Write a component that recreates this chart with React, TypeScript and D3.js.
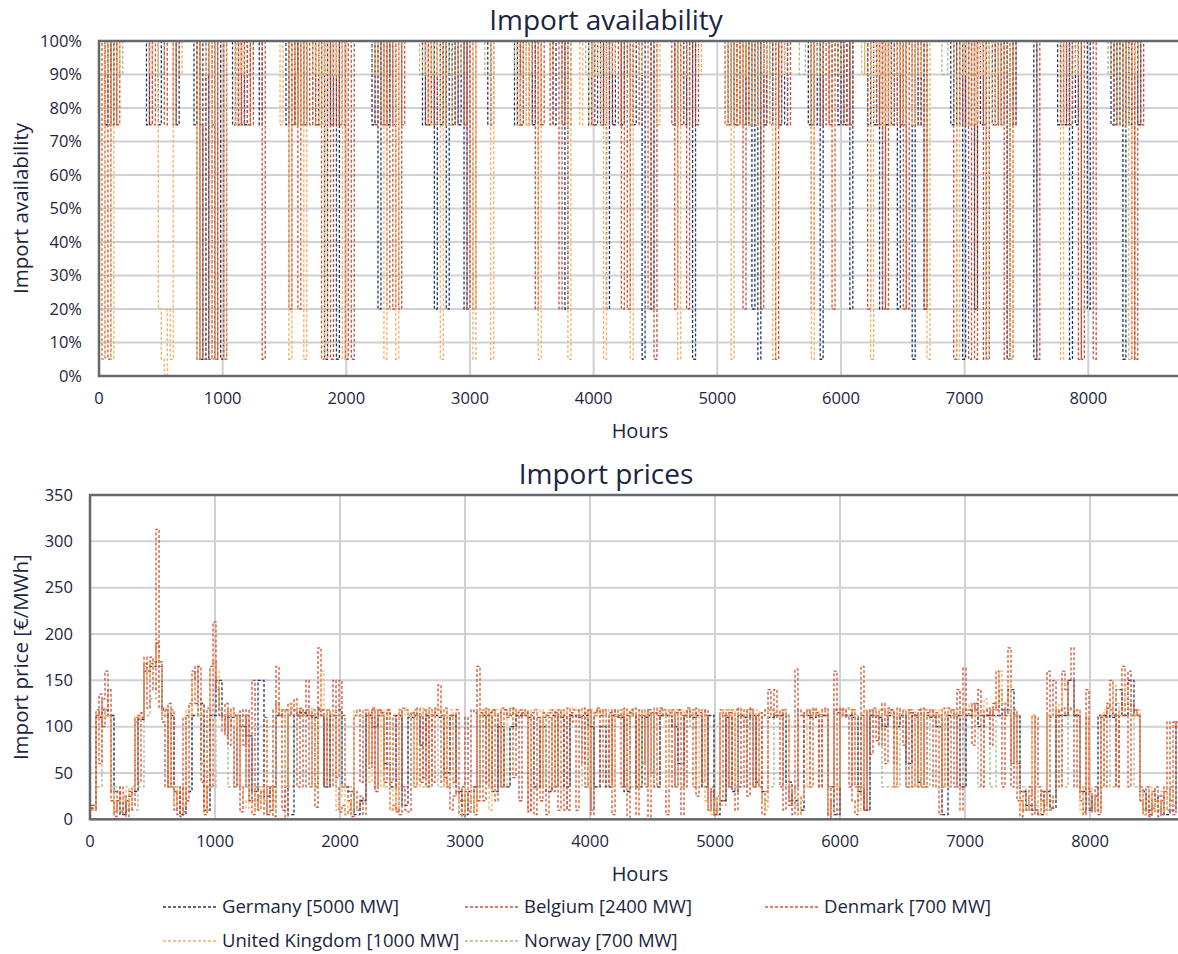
import React from "react";
import * as d3 from "d3";

// readings are daily (24 h) for the busy series, every 48 h for the quieter ones
const DAY = 24;
const TWO_DAYS = 48;
const HOURS_MAX = 8760;

const legendLabels = [
  "Germany [5000 MW]",
  "Belgium [2400 MW]",
  "Denmark [700 MW]",
  "United Kingdom [1000 MW]",
  "Norway [700 MW]",
];
const seriesColors = ["#1f3a68", "#c4503f", "#d4552c", "#f5b062", "#a8b98a"];

const xTicks = [0, 1000, 2000, 3000, 4000, 5000, 6000, 7000, 8000];
const availTicks = [0, 0.1, 0.2, 0.3, 0.4, 0.5, 0.6, 0.7, 0.8, 0.9, 1];
const priceTicks = [0, 50, 100, 150, 200, 250, 300, 350];

// availability in %, one value per day
const availGermany = [
  100, 100, 75, 100, 75, 100, 100, 100, 100, 100,
  100, 100, 100, 100, 100, 100, 75, 100, 100, 100,
  75, 100, 100, 100, 100, 100, 75, 100, 100, 100,
  100, 100, 75, 100, 5, 100, 5, 100, 5, 100,
  100, 5, 100, 100, 100, 75, 100, 75, 100, 75,
  100, 100, 100, 100, 75, 100, 100, 100, 100, 100,
  100, 100, 100, 75, 100, 100, 75, 100, 100, 75,
  100, 100, 100, 100, 75, 100, 5, 100, 75, 100,
  5, 100, 75, 100, 100, 100, 100, 100, 100, 100,
  100, 100, 75, 100, 20, 100, 100, 75, 100, 100,
  100, 100, 100, 100, 100, 100, 100, 100, 100, 75,
  100, 75, 100, 20, 100, 75, 100, 20, 100, 75,
  100, 75, 100, 20, 100, 100, 100, 100, 100, 100,
  100, 75, 100, 100, 100, 100, 100, 100, 100, 100,
  75, 100, 75, 100, 100, 100, 75, 100, 100, 100,
  100, 100, 100, 75, 100, 100, 100, 20, 100, 100,
  100, 100, 100, 100, 100, 75, 100, 75, 100, 75,
  100, 20, 100, 75, 100, 100, 75, 100, 100, 100,
  75, 100, 100, 5, 100, 100, 20, 100, 100, 100,
  100, 100, 100, 100, 75, 100, 100, 75, 100, 100,
  5, 100, 100, 100, 100, 100, 100, 100, 100, 100,
  100, 75, 100, 75, 100, 75, 100, 100, 75, 100,
  20, 100, 5, 100, 75, 100, 75, 100, 100, 75,
  100, 75, 100, 100, 100, 100, 100, 100, 100, 75,
  100, 75, 100, 5, 100, 100, 100, 100, 100, 75,
  100, 75, 100, 20, 100, 100, 100, 100, 100, 75,
  100, 75, 100, 20, 100, 75, 100, 75, 100, 20,
  100, 75, 100, 100, 5, 100, 75, 100, 20, 100,
  100, 100, 100, 100, 100, 100, 100, 75, 100, 75,
  100, 5, 100, 75, 100, 20, 100, 75, 100, 5,
  100, 75, 100, 100, 75, 100, 5, 100, 75, 100,
  100, 100, 100, 100, 100, 5, 100, 100, 100, 100,
  100, 100, 100, 75, 100, 75, 100, 5, 100, 75,
  100, 100, 100, 20, 100, 100, 100, 100, 100, 100,
  100, 75, 100, 75, 100, 5, 100, 75, 100, 100,
  75, 100, 100, 100, 100, 100, 100, 100, 100, 100,
  100, 100, 100, 100, 100,
];
const availBelgium = [
  100, 75, 100, 5, 100, 75, 100, 100, 100, 100,
  100, 100, 100, 100, 100, 100, 100, 75, 100, 100,
  100, 100, 75, 100, 100, 100, 100, 100, 100, 100,
  100, 100, 100, 5, 100, 100, 100, 5, 100, 5,
  100, 100, 5, 100, 100, 100, 75, 100, 75, 100,
  75, 100, 100, 100, 100, 5, 100, 100, 100, 100,
  100, 100, 100, 100, 20, 100, 75, 100, 75, 100,
  100, 75, 100, 75, 100, 100, 75, 100, 5, 100,
  100, 75, 100, 100, 100, 5, 100, 100, 100, 100,
  100, 100, 100, 75, 100, 75, 100, 20, 100, 75,
  100, 20, 100, 100, 100, 100, 100, 100, 100, 100,
  75, 100, 100, 75, 100, 100, 75, 100, 100, 100,
  75, 100, 100, 100, 20, 100, 100, 100, 100, 100,
  100, 100, 75, 100, 100, 100, 100, 100, 100, 100,
  100, 75, 100, 100, 75, 100, 100, 20, 100, 75,
  100, 100, 75, 100, 100, 20, 100, 100, 75, 100,
  100, 100, 100, 100, 100, 100, 75, 100, 100, 75,
  100, 100, 75, 100, 100, 75, 100, 100, 20, 100,
  100, 100, 75, 100, 100, 100, 100, 5, 100, 100,
  100, 100, 100, 75, 100, 100, 75, 100, 20, 100,
  100, 75, 100, 100, 100, 100, 100, 100, 100, 100,
  100, 100, 75, 100, 100, 75, 100, 20, 100, 75,
  100, 75, 100, 100, 75, 100, 100, 75, 100, 75,
  100, 100, 75, 100, 100, 100, 100, 100, 100, 100,
  20, 100, 100, 75, 100, 100, 75, 100, 100, 100,
  75, 100, 100, 75, 100, 100, 100, 100, 100, 20,
  100, 100, 75, 100, 20, 100, 100, 75, 100, 100,
  75, 100, 20, 100, 100, 100, 75, 100, 100, 100,
  100, 100, 100, 100, 100, 100, 100, 100, 5, 100,
  75, 100, 100, 5, 100, 75, 100, 100, 5, 100,
  100, 100, 75, 100, 100, 5, 100, 100, 75, 100,
  100, 100, 100, 100, 100, 100, 5, 100, 100, 100,
  100, 100, 100, 100, 75, 100, 100, 75, 100, 100,
  5, 100, 100, 100, 100, 5, 100, 100, 100, 100,
  100, 100, 75, 100, 100, 75, 100, 100, 5, 100,
  100, 75, 100, 100, 100, 100, 100, 100, 100, 100,
  100, 100, 100, 100, 100,
];
const availDenmark = [
  100, 5, 100, 75, 100, 100, 75, 100, 100, 100,
  100, 100, 100, 100, 100, 100, 100, 100, 75, 100,
  100, 100, 100, 100, 100, 75, 100, 100, 100, 100,
  100, 100, 100, 100, 75, 5, 100, 100, 75, 5,
  100, 100, 100, 100, 100, 100, 100, 75, 100, 100,
  100, 75, 100, 100, 100, 100, 100, 100, 100, 100,
  100, 100, 100, 100, 100, 75, 100, 20, 100, 75,
  100, 100, 75, 100, 100, 5, 100, 100, 75, 100,
  75, 100, 100, 5, 100, 100, 100, 100, 100, 100,
  100, 100, 100, 100, 100, 100, 75, 100, 100, 20,
  100, 100, 75, 100, 100, 100, 100, 100, 100, 100,
  100, 100, 75, 100, 100, 100, 75, 100, 100, 100,
  100, 100, 100, 75, 100, 100, 20, 100, 100, 100,
  100, 100, 100, 100, 100, 100, 100, 100, 100, 100,
  100, 100, 75, 100, 100, 75, 100, 100, 75, 100,
  100, 100, 100, 100, 100, 100, 75, 100, 100, 100,
  100, 100, 100, 100, 100, 100, 100, 100, 100, 100,
  75, 100, 100, 100, 100, 100, 20, 100, 100, 75,
  100, 100, 100, 100, 100, 20, 100, 100, 100, 100,
  100, 100, 100, 100, 20, 100, 100, 100, 100, 75,
  100, 100, 100, 100, 100, 100, 100, 100, 100, 100,
  100, 100, 100, 100, 75, 100, 100, 75, 100, 100,
  100, 100, 100, 20, 100, 100, 100, 100, 5, 100,
  100, 100, 100, 100, 100, 100, 100, 100, 100, 100,
  75, 100, 100, 100, 100, 75, 100, 20, 100, 100,
  100, 100, 75, 100, 100, 100, 100, 100, 100, 100,
  100, 100, 100, 75, 100, 20, 100, 100, 100, 75,
  100, 20, 100, 100, 75, 100, 100, 100, 20, 100,
  100, 100, 100, 100, 100, 100, 100, 100, 100, 100,
  100, 100, 75, 100, 100, 5, 100, 100, 75, 100,
  100, 100, 100, 75, 100, 100, 100, 5, 100, 100,
  100, 100, 100, 100, 100, 100, 100, 100, 100, 100,
  100, 100, 100, 100, 100, 100, 75, 100, 100, 100,
  100, 5, 100, 100, 100, 100, 100, 100, 100, 100,
  100, 100, 100, 100, 100, 100, 75, 100, 100, 5,
  100, 100, 100, 100, 100, 100, 100, 100, 100, 100,
  100, 100, 100, 100, 100,
];
const availUK = [
  100, 5, 100, 90, 5, 100, 90, 100, 100, 100,
  100, 100, 100, 100, 100, 100, 100, 90, 100, 100,
  20, 5, 0, 20, 5, 100, 100, 90, 100, 100,
  100, 100, 100, 5, 100, 100, 90, 100, 5, 100,
  100, 100, 5, 100, 100, 100, 75, 100, 90, 100,
  100, 100, 100, 100, 100, 100, 100, 100, 100, 100,
  100, 75, 100, 100, 5, 100, 90, 75, 100, 5,
  100, 100, 90, 100, 75, 100, 5, 100, 100, 90,
  100, 100, 5, 100, 100, 100, 100, 100, 100, 100,
  100, 100, 100, 90, 100, 100, 5, 100, 100, 100,
  5, 100, 100, 100, 100, 100, 100, 100, 100, 90,
  100, 75, 100, 90, 100, 5, 100, 75, 75, 100,
  100, 90, 100, 100, 100, 100, 5, 100, 100, 100,
  100, 100, 5, 100, 100, 100, 100, 100, 100, 100,
  100, 75, 90, 100, 75, 100, 100, 100, 5, 100,
  100, 100, 90, 100, 100, 100, 100, 100, 5, 100,
  100, 100, 75, 100, 100, 75, 100, 90, 100, 75,
  5, 100, 100, 90, 100, 100, 100, 100, 100, 5,
  100, 100, 90, 100, 100, 100, 100, 100, 75, 100,
  100, 100, 100, 100, 100, 5, 100, 100, 100, 100,
  100, 100, 90, 100, 100, 100, 100, 100, 100, 100,
  100, 75, 100, 5, 100, 75, 100, 90, 100, 75,
  100, 75, 100, 100, 90, 100, 75, 5, 100, 100,
  90, 100, 100, 100, 100, 100, 100, 100, 100, 100,
  5, 100, 100, 90, 100, 100, 100, 100, 100, 90,
  100, 100, 100, 100, 100, 100, 100, 90, 100, 100,
  5, 100, 90, 100, 75, 100, 75, 100, 100, 90,
  100, 75, 100, 100, 75, 100, 90, 100, 100, 5,
  100, 100, 100, 100, 100, 100, 100, 100, 90, 5,
  100, 90, 100, 75, 100, 75, 100, 90, 100, 5,
  100, 75, 90, 100, 75, 100, 100, 5, 100, 100,
  100, 100, 100, 100, 100, 100, 100, 100, 100, 100,
  100, 100, 100, 100, 5, 100, 100, 100, 100, 90,
  100, 100, 100, 100, 100, 100, 100, 100, 100, 100,
  100, 90, 100, 75, 100, 75, 100, 5, 100, 90,
  100, 100, 100, 100, 100, 100, 100, 100, 100, 100,
  100, 100, 100, 100, 100,
];
// Norway, one value every two days
const availNorway = [
  100, 90, 100, 90, 100, 100, 100, 100, 100, 100, 90, 100,
  100, 100, 100, 100, 100, 100, 100, 100, 100, 100, 100, 90,
  100, 90, 100, 100, 100, 100, 100, 100, 90, 100, 90, 100,
  100, 90, 100, 90, 100, 100, 100, 100, 100, 100, 90, 100,
  90, 100, 100, 100, 100, 100, 90, 100, 90, 100, 100, 90,
  100, 100, 100, 100, 100, 90, 100, 100, 100, 100, 90, 100,
  90, 100, 100, 100, 100, 100, 100, 100, 100, 100, 90, 100,
  100, 90, 100, 100, 90, 100, 100, 100, 100, 100, 100, 100,
  100, 100, 90, 100, 100, 100, 100, 100, 100, 100, 100, 90,
  90, 100, 100, 90, 100, 90, 100, 100, 100, 100, 90, 100,
  90, 100, 100, 100, 90, 100, 100, 100, 100, 90, 100, 90,
  100, 90, 100, 90, 100, 90, 100, 100, 100, 100, 90, 100,
  100, 90, 100, 90, 100, 100, 90, 100, 100, 90, 100, 100,
  100, 100, 100, 100, 100, 100, 100, 90, 100, 100, 100, 100,
  100, 100, 90, 100, 100, 90, 100, 100, 100, 100, 100, 100,
  100, 100, 100,
];

// import prices in €/MWh
const priceGermany = [
  12, 110, 118, 112, 30, 5, 25, 30, 108, 160, 165, 170,
  118, 112, 30, 5, 30, 112, 125, 10, 112, 150, 112, 110,
  112, 100, 90, 30, 150, 25, 35, 112, 118, 5, 112, 115,
  112, 110, 118, 35, 112, 118, 35, 30, 5, 20, 112, 100,
  112, 60, 35, 112, 15, 110, 112, 80, 112, 112, 110, 50,
  112, 30, 5, 30, 35, 112, 112, 30, 100, 35, 100, 112,
  112, 110, 35, 100, 30, 112, 110, 35, 112, 110, 112, 100,
  35, 100, 35, 112, 110, 30, 112, 35, 110, 112, 35, 112,
  112, 100, 60, 112, 110, 112, 35, 112, 5, 20, 110, 30,
  112, 110, 112, 40, 30, 110, 112, 112, 40, 20, 10, 112,
  110, 112, 112, 35, 5, 112, 112, 110, 30, 10, 112, 110,
  100, 112, 100, 112, 60, 112, 40, 112, 110, 100, 5, 112,
  112, 35, 112, 118, 100, 112, 112, 112, 118, 140, 112, 30,
  15, 10, 5, 30, 12, 112, 112, 150, 112, 30, 10, 25,
  112, 112, 110, 140, 112, 150, 112, 30, 10, 20, 25, 5,
  10, 100, 100,
];
const priceBelgium = [
  15, 10, 112, 135, 100, 118, 140, 30, 8, 20,
  35, 5, 20, 10, 35, 105, 112, 115, 168, 160,
  175, 170, 190, 165, 120, 110, 35, 118, 30, 5,
  35, 8, 112, 125, 150, 165, 130, 40, 35, 10,
  165, 170, 140, 112, 110, 90, 118, 100, 35, 112,
  8, 35, 118, 20, 150, 10, 25, 30, 5, 35,
  10, 118, 125, 112, 10, 35, 112, 120, 118, 112,
  118, 35, 150, 112, 118, 35, 120, 112, 35, 118,
  112, 150, 35, 8, 15, 5, 10, 30, 112, 118,
  40, 118, 112, 60, 118, 30, 118, 115, 55, 118,
  40, 112, 10, 5, 120, 118, 112, 115, 118, 112,
  112, 45, 118, 35, 112, 120, 118, 112, 45, 35,
  10, 25, 30, 5, 35, 110, 20, 118, 115, 20,
  112, 118, 40, 115, 118, 112, 35, 120, 118, 112,
  112, 120, 112, 20, 115, 118, 8, 115, 118, 110,
  35, 110, 112, 115, 118, 35, 118, 110, 112, 10,
  115, 118, 118, 112, 60, 115, 118, 10, 115, 118,
  112, 118, 112, 40, 118, 112, 110, 118, 35, 112,
  118, 112, 35, 118, 112, 35, 118, 50, 115, 112,
  120, 118, 112, 118, 35, 115, 118, 5, 112, 118,
  112, 118, 25, 35, 118, 112, 10, 35, 5, 15,
  118, 112, 35, 115, 118, 118, 35, 112, 118, 25,
  118, 35, 112, 35, 112, 118, 140, 118, 112, 112,
  118, 10, 35, 20, 5, 35, 118, 112, 115, 118,
  112, 118, 115, 35, 118, 112, 5, 35, 118, 115,
  120, 118, 110, 35, 118, 35, 20, 112, 10, 115,
  118, 112, 85, 118, 118, 112, 120, 118, 60, 112,
  118, 115, 35, 118, 115, 112, 118, 35, 118, 115,
  118, 112, 115, 110, 35, 112, 120, 118, 35, 140,
  112, 118, 118, 118, 125, 118, 140, 112, 112, 118,
  112, 125, 118, 140, 118, 112, 118, 35, 112, 60,
  20, 10, 10, 35, 5, 110, 35, 20, 10, 112,
  110, 150, 112, 118, 160, 140, 120, 118, 35, 112,
  30, 8, 110, 12, 8, 35, 10, 112, 110, 125,
  118, 112, 35, 112, 125, 118, 160, 112, 118, 112,
  20, 5, 35, 5, 12, 35, 3, 20, 35, 10,
  35, 5, 105, 20, 100,
];
const priceDenmark = [
  12, 15, 118, 60, 130, 160, 112, 20, 3, 30,
  8, 25, 3, 30, 15, 110, 40, 110, 175, 120,
  168, 140, 313, 120, 105, 35, 125, 35, 10, 30,
  3, 110, 20, 112, 160, 125, 165, 60, 5, 120,
  35, 213, 150, 118, 95, 125, 80, 120, 112, 35,
  118, 80, 112, 20, 5, 35, 10, 30, 110, 5,
  35, 3, 165, 112, 118, 0, 125, 112, 130, 35,
  120, 112, 118, 35, 112, 13, 185, 112, 40, 118,
  35, 112, 45, 150, 112, 35, 20, 3, 30, 10,
  25, 5, 118, 55, 120, 35, 118, 112, 40, 118,
  10, 15, 8, 118, 35, 10, 8, 115, 35, 120,
  40, 118, 35, 120, 40, 118, 145, 40, 120, 35,
  112, 40, 118, 20, 3, 30, 8, 25, 5, 165,
  115, 20, 120, 35, 118, 20, 115, 35, 118, 110,
  120, 45, 115, 118, 112, 115, 10, 112, 5, 110,
  20, 115, 5, 110, 30, 115, 10, 118, 10, 120,
  105, 112, 10, 118, 120, 35, 118, 5, 112, 120,
  40, 118, 35, 115, 5, 118, 112, 35, 120, 0,
  115, 120, 5, 112, 60, 118, 0, 115, 120, 35,
  118, 112, 5, 115, 118, 35, 118, 112, 35, 120,
  112, 35, 120, 115, 40, 118, 10, 30, 5, 25,
  112, 20, 118, 35, 115, 10, 120, 112, 35, 118,
  120, 35, 112, 115, 5, 30, 118, 112, 140, 110,
  35, 118, 112, 15, 30, 162, 5, 25, 112, 118,
  35, 120, 112, 35, 118, 120, 0, 20, 160, 5,
  118, 112, 120, 118, 20, 5, 35, 165, 10, 118,
  70, 120, 112, 80, 125, 60, 115, 118, 35, 120,
  112, 80, 118, 115, 35, 110, 35, 120, 35, 110,
  118, 35, 112, 5, 120, 112, 35, 118, 112, 35,
  10, 163, 112, 118, 80, 125, 112, 35, 118, 120,
  80, 118, 160, 112, 35, 125, 185, 60, 118, 20,
  3, 30, 10, 25, 112, 10, 5, 30, 15, 160,
  10, 25, 118, 35, 120, 112, 150, 185, 112, 118,
  20, 5, 140, 30, 10, 25, 5, 110, 35, 120,
  150, 112, 35, 118, 165, 112, 35, 125, 118, 112,
  35, 10, 25, 3, 30, 8, 20, 5, 30, 105,
  20, 105, 100, 35, 105,
];
const priceUK = [
  10, 12, 110, 112, 120, 110, 112, 35, 10, 10,
  25, 20, 35, 15, 35, 112, 110, 112, 165, 150,
  170, 165, 180, 170, 112, 120, 118, 35, 15, 35,
  30, 15, 118, 112, 150, 130, 112, 118, 10, 35,
  160, 170, 160, 118, 118, 112, 112, 118, 100, 112,
  35, 20, 12, 35, 35, 10, 20, 35, 20, 35,
  35, 10, 120, 118, 118, 35, 118, 125, 125, 118,
  118, 112, 112, 120, 118, 35, 118, 160, 112, 118,
  112, 118, 10, 25, 35, 5, 20, 10, 118, 112,
  112, 118, 118, 40, 112, 118, 112, 35, 118, 112,
  10, 35, 10, 118, 112, 118, 112, 115, 35, 118,
  112, 120, 118, 112, 118, 112, 120, 118, 35, 118,
  118, 35, 25, 10, 5, 35, 20, 35, 10, 35,
  118, 112, 118, 10, 112, 118, 118, 100, 35, 112,
  120, 118, 115, 118, 118, 112, 35, 118, 118, 115,
  118, 35, 115, 118, 35, 112, 118, 112, 115, 118,
  120, 118, 118, 112, 118, 115, 35, 118, 112, 115,
  118, 112, 118, 112, 35, 112, 118, 115, 118, 35,
  112, 118, 118, 35, 118, 112, 115, 35, 118, 118,
  115, 118, 35, 118, 112, 118, 112, 118, 115, 112,
  118, 112, 35, 118, 112, 20, 10, 5, 20, 10,
  115, 118, 118, 112, 118, 35, 115, 118, 112, 118,
  115, 112, 118, 35, 20, 10, 118, 120, 115, 118,
  118, 118, 112, 35, 30, 25, 5, 20, 35, 118,
  118, 112, 118, 112, 118, 118, 10, 10, 35, 35,
  112, 118, 118, 120, 118, 35, 10, 35, 118, 115,
  118, 118, 112, 118, 118, 112, 118, 112, 35, 118,
  112, 118, 112, 118, 118, 35, 112, 35, 118, 112,
  118, 118, 112, 118, 35, 112, 118, 118, 112, 118,
  112, 118, 118, 125, 112, 118, 112, 118, 130, 118,
  118, 118, 125, 160, 125, 125, 150, 112, 112, 35,
  10, 25, 10, 25, 112, 35, 5, 20, 5, 112,
  112, 112, 125, 118, 150, 145, 118, 118, 118, 118,
  10, 35, 112, 35, 25, 10, 30, 112, 118, 125,
  112, 145, 125, 112, 118, 145, 118, 112, 112, 118,
  30, 5, 20, 35, 8, 20, 15, 30, 10, 35,
  15, 100, 100, 100, 100,
];
const priceNorway = [
  10, 35, 112, 112, 35, 10, 10, 10, 35, 112, 130, 150,
  112, 35, 35, 10, 35, 112, 112, 35, 35, 112, 112, 35,
  112, 112, 35, 20, 35, 20, 20, 112, 112, 35, 112, 112,
  112, 35, 112, 35, 112, 112, 35, 35, 10, 20, 112, 100,
  100, 35, 35, 35, 35, 112, 112, 35, 112, 112, 35, 112,
  112, 35, 20, 10, 35, 112, 100, 35, 100, 35, 100, 112,
  112, 35, 35, 100, 35, 35, 112, 35, 112, 112, 35, 100,
  35, 35, 35, 112, 112, 35, 35, 35, 112, 112, 35, 112,
  112, 112, 35, 112, 100, 112, 35, 112, 10, 15, 112, 35,
  112, 100, 112, 35, 20, 35, 112, 112, 35, 15, 10, 35,
  112, 112, 112, 35, 10, 112, 112, 112, 35, 10, 112, 112,
  35, 35, 35, 112, 35, 112, 35, 35, 112, 112, 35, 112,
  112, 35, 112, 112, 35, 112, 35, 112, 112, 112, 112, 35,
  10, 15, 20, 10, 20, 112, 35, 112, 112, 35, 20, 15,
  35, 112, 35, 112, 112, 112, 35, 20, 10, 15, 10, 10,
  15, 20, 100,
];

const availSeries = [availGermany, availBelgium, availDenmark, availUK, availNorway];
const availSteps = [DAY, DAY, DAY, DAY, TWO_DAYS];
const priceSeries = [priceGermany, priceBelgium, priceDenmark, priceUK, priceNorway];
const priceSteps = [TWO_DAYS, DAY, DAY, DAY, TWO_DAYS];
// paint order: Germany lies underneath, United Kingdom on top
const availOrder = [0, 4, 1, 2, 3];
const priceOrder = [4, 0, 1, 2, 3];

const FONT = "'Open Sans', 'DejaVu Sans', sans-serif";
const TEXT = "#1b2540";
const GRID = "#d0d0d6";
const FRAME = "#65686d";

function toPoints(values: number[], step: number, scaleBy = 1) {
  const pts = values.map((v, i) => ({ x: i * step, y: v / scaleBy }));
  pts.push({ x: HOURS_MAX, y: values[values.length - 1] / scaleBy });
  return pts;
}

function Panel({ top, bottom, left, pxPer1000, yScale, yTicks, yFormat, series, steps, order, scaleBy, title, yTitle, clipId }) {
  const right = 1178;
  const xScale = d3
    .scaleLinear()
    .domain([0, HOURS_MAX])
    .range([left, left + (HOURS_MAX / 1000) * pxPer1000]);
  const line = d3
    .line<{ x: number; y: number }>()
    .x((d) => xScale(d.x))
    .y((d) => yScale(d.y))
    .curve(d3.curveStepAfter);
  const plotRight = xScale(HOURS_MAX);

  return (
    <g>
      <text x={606} y={top - 11} textAnchor="middle" fontSize={28} fill={TEXT} fontFamily={FONT}>
        {title}
      </text>
      <defs>
        <clipPath id={clipId}>
          <rect x={left} y={top - 2} width={right - left} height={bottom - top + 4} />
        </clipPath>
      </defs>
      {yTicks.map((t) => (
        <line key={"gy" + t} x1={left} x2={plotRight} y1={yScale(t)} y2={yScale(t)} stroke={GRID} strokeWidth={2} />
      ))}
      {xTicks.map((t) => (
        <line key={"gx" + t} x1={xScale(t)} x2={xScale(t)} y1={top} y2={bottom} stroke={GRID} strokeWidth={2} />
      ))}
      <g clipPath={`url(#${clipId})`}>
        {order.map((k) => (
          <path
            key={k}
            d={line(toPoints(series[k], steps[k], scaleBy))}
            fill="none"
            stroke={seriesColors[k]}
            strokeWidth={1.3}
            strokeDasharray="3 2"
          />
        ))}
      </g>
      <rect x={left} y={top} width={plotRight - left} height={bottom - top} fill="none" stroke={FRAME} strokeWidth={2.5} />
      {yTicks.map((t) => (
        <text
          key={"ty" + t}
          x={left - 17}
          y={yScale(t)}
          dy="0.35em"
          textAnchor="end"
          fontSize={16.5}
          fill={TEXT}
          fontFamily={FONT}
        >
          {yFormat(t)}
        </text>
      ))}
      {xTicks.map((t) => (
        <text
          key={"tx" + t}
          x={xScale(t)}
          y={bottom + 22}
          dy="0.35em"
          textAnchor="middle"
          fontSize={16.5}
          fill={TEXT}
          fontFamily={FONT}
        >
          {t}
        </text>
      ))}
      <text x={640} y={bottom + 55} dy="0.35em" textAnchor="middle" fontSize={20} fill={TEXT} fontFamily={FONT}>
        Hours
      </text>
      <text
        transform={`translate(21, ${(top + bottom) / 2}) rotate(-90)`}
        dy="0.35em"
        textAnchor="middle"
        fontSize={20.5}
        fill={TEXT}
        fontFamily={FONT}
      >
        {yTitle}
      </text>
    </g>
  );
}

export default function App() {
  const availY = d3.scaleLinear().domain([0, 1]).range([376, 41]);
  const priceY = d3.scaleLinear().domain([0, 350]).range([819.3, 495]);

  const legendPos = [
    { x: 163, y: 907 },
    { x: 465, y: 907 },
    { x: 765, y: 907 },
    { x: 163, y: 941 },
    { x: 465, y: 941 },
  ];

  return (
    <svg width={1178} height={954} style={{ position: "absolute", left: 0, top: 0, background: "#fff" }}>
      <rect width={1178} height={954} fill="#fff" />
      <Panel
        top={41}
        bottom={376}
        left={99}
        pxPer1000={123.66}
        yScale={availY}
        yTicks={availTicks}
        yFormat={d3.format(".0%")}
        series={availSeries}
        steps={availSteps}
        order={availOrder}
        scaleBy={100}
        title="Import availability"
        yTitle="Import availability"
        clipId="clipAvail"
      />
      <Panel
        top={495}
        bottom={819.3}
        left={90}
        pxPer1000={125}
        yScale={priceY}
        yTicks={priceTicks}
        yFormat={(d) => String(d)}
        series={priceSeries}
        steps={priceSteps}
        order={priceOrder}
        scaleBy={1}
        title="Import prices"
        yTitle="Import price [€/MWh]"
        clipId="clipPrice"
      />
      {legendLabels.map((label, i) => (
        <g key={label} transform={`translate(${legendPos[i].x}, ${legendPos[i].y})`}>
          <line x1={0} x2={53} y1={0} y2={0} stroke={seriesColors[i]} strokeWidth={1.3} strokeDasharray="3 2" />
          <text x={59} y={0} dy="0.35em" fontSize={18.5} fill={TEXT} fontFamily={FONT}>
            {label}
          </text>
        </g>
      ))}
    </svg>
  );
}
